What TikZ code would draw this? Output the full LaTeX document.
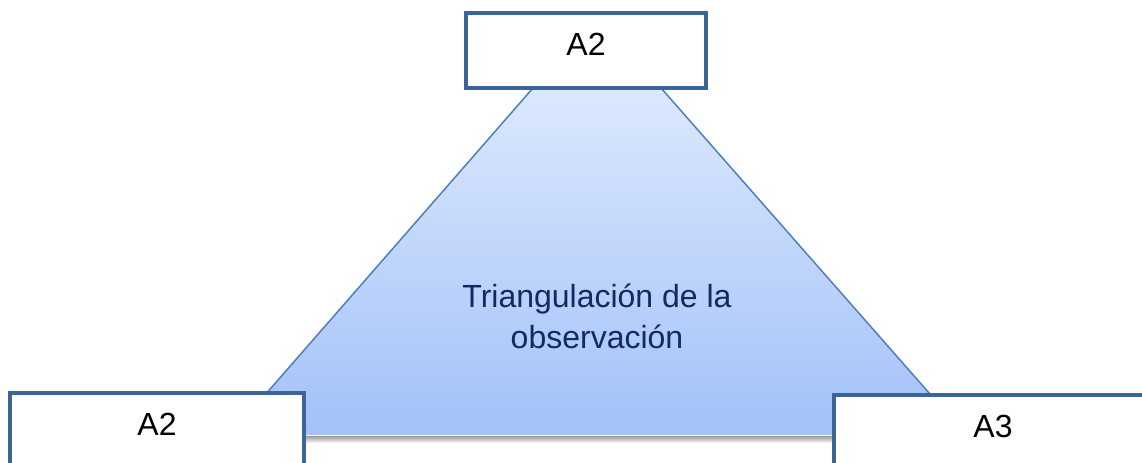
\documentclass[tikz,border=0pt]{standalone}
\usepackage{fontspec}
\setmainfont{Liberation Sans}
\definecolor{boxline}{HTML}{3B6596}
\definecolor{triline}{HTML}{4A7EBB}
\definecolor{tritop}{HTML}{DCE8FD}
\definecolor{tribot}{HTML}{A2C1F8}
\definecolor{tritext}{HTML}{112B62}

\begin{document}
\begin{tikzpicture}[x=0.75pt,y=-0.75pt,
    obsbox/.style={draw=boxline,line width=2.6pt,fill=white,rectangle,
      inner sep=0pt,minimum height=56.25pt,text height=17.5pt,text depth=10.7pt,
      font=\fontsize{24}{29}\selectfont}]
      \useasboundingbox (0,0) rectangle (1142,463);

      % the triangle and its shadow
      \shade[top color=tritop,bottom color=tribot] (533,88) -- (661,88) -- (966,435) -- (230,435) -- cycle;
      \shade[top color=black!40,bottom color=white] (232,436) rectangle (964,443);
      \draw[triline,line width=1.1pt] (533,88) -- (230,435);
      \draw[triline,line width=1.1pt] (661,88) -- (966,435);

      \node (tri) at (597,316) [align=center,text=tritext,
        font=\fontsize{24}{30.75}\selectfont] {Triangulación de la\\observación};

      \node (topA) at (586,50.5) [obsbox,minimum width=180pt] {A2};
      \node (leftA) at (157,430.5) [obsbox,minimum width=220.5pt] {A2};
      \node (rightA) at (993,432.5) [obsbox,minimum width=238.5pt] {A3};
    \end{tikzpicture}
\end{document}
